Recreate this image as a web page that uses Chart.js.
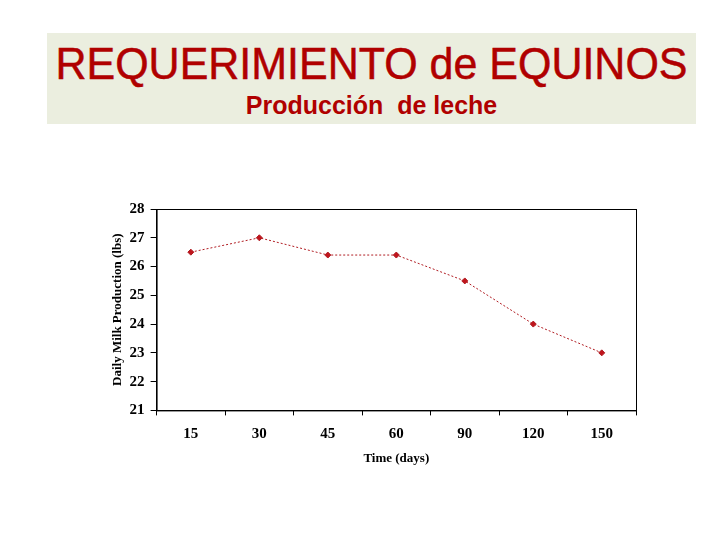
<!DOCTYPE html>
<html>
<head>
<meta charset="utf-8">
<script src="https://cdn.jsdelivr.net/npm/chart.js@4/dist/chart.umd.min.js"></script>
<style>
  body { margin: 0; background: #fff; }
  #wrap { position: relative; width: 720px; height: 540px; overflow: hidden; }
  #titleBox {
    position: absolute; left: 47px; top: 33px; width: 649px; height: 91px;
    background: #ebeedf; text-align: center; font-family: "Liberation Sans", Arial, sans-serif;
    color: #b00000;
  }
  #titleBox .main {
    position: absolute; left: -60px; right: -60px; top: 8px;
    font-size: 45px; line-height: 45px; white-space: nowrap;
    transform: scaleX(0.955); -webkit-text-stroke: 0.5px #b00000;
  }
  #titleBox .sub {
    position: absolute; left: 0; right: 0; top: 60px;
    font-size: 25px; font-weight: bold; line-height: 25px; white-space: nowrap;
  }
  #chartBox { position: absolute; left: 0; top: 0; width: 720px; height: 540px; }
</style>
</head>
<body>
<div id="wrap">
  <div id="titleBox">
    <div class="main">REQUERIMIENTO de EQUINOS</div>
    <div class="sub">Producción&nbsp; de leche</div>
  </div>
  <div id="chartBox"><canvas id="milkChart"></canvas></div>
</div>
<script>
// Data
const days = ["15", "30", "45", "60", "90", "120", "150"];
const milkLbs = [26.5, 27, 26.4, 26.4, 25.5, 24, 23];
const yMin = 21;
const yMax = 28;

// Frame round the plot area
const plotFrame = {
  id: "plotFrame",
  afterDraw(chart) {
    const { ctx, chartArea: a } = chart;
    ctx.save();
    ctx.strokeStyle = "#000";
    ctx.lineWidth = 1;
    ctx.strokeRect(a.left + 0.5, a.top + 0.5, a.right - a.left, a.bottom - a.top);
    ctx.restore();
  },
};

const serif = "'Liberation Serif', 'Times New Roman', serif";

new Chart(document.getElementById("milkChart"), {
  type: "line",
  data: {
    labels: days,
    datasets: [
      {
        data: milkLbs,
        borderColor: "#b01c22",
        backgroundColor: "#c0141c",
        borderWidth: 1,
        borderDash: [2, 2],
        pointStyle: "rectRot",
        pointRadius: 3,
        pointHoverRadius: 3,
        tension: 0,
      },
    ],
  },
  plugins: [plotFrame],
  options: {
    responsive: true,
    maintainAspectRatio: false,
    animation: false,
    layout: { padding: { left: 110, top: 209, right: 84, bottom: 74 } },
    plugins: { legend: { display: false }, tooltip: { enabled: false } },
    scales: {
      x: {
        type: "category",
        offset: true,
        grid: { display: true, offset: true, drawOnChartArea: false, drawTicks: true, tickLength: 5, color: "#000" },
        border: { display: true, color: "#000" },
        ticks: { color: "#000", padding: 10, font: { family: serif, size: 15, weight: "bold" } },
        title: {
          display: true,
          text: "Time (days)",
          color: "#000",
          padding: { top: -3, bottom: 0 },
          font: { family: serif, size: 13, weight: "bold" },
        },
      },
      y: {
        min: yMin,
        max: yMax,
        grid: { display: true, drawOnChartArea: false, drawTicks: true, tickLength: 6, color: "#000" },
        border: { display: true, color: "#000" },
        ticks: { stepSize: 1, color: "#000", padding: 6, font: { family: serif, size: 15, weight: "bold" } },
        title: {
          display: true,
          text: "Daily Milk Production (lbs)",
          color: "#000",
          padding: { top: 0, bottom: -2 },
          font: { family: serif, size: 13, weight: "bold" },
        },
      },
    },
  },
});
</script>
</body>
</html>
